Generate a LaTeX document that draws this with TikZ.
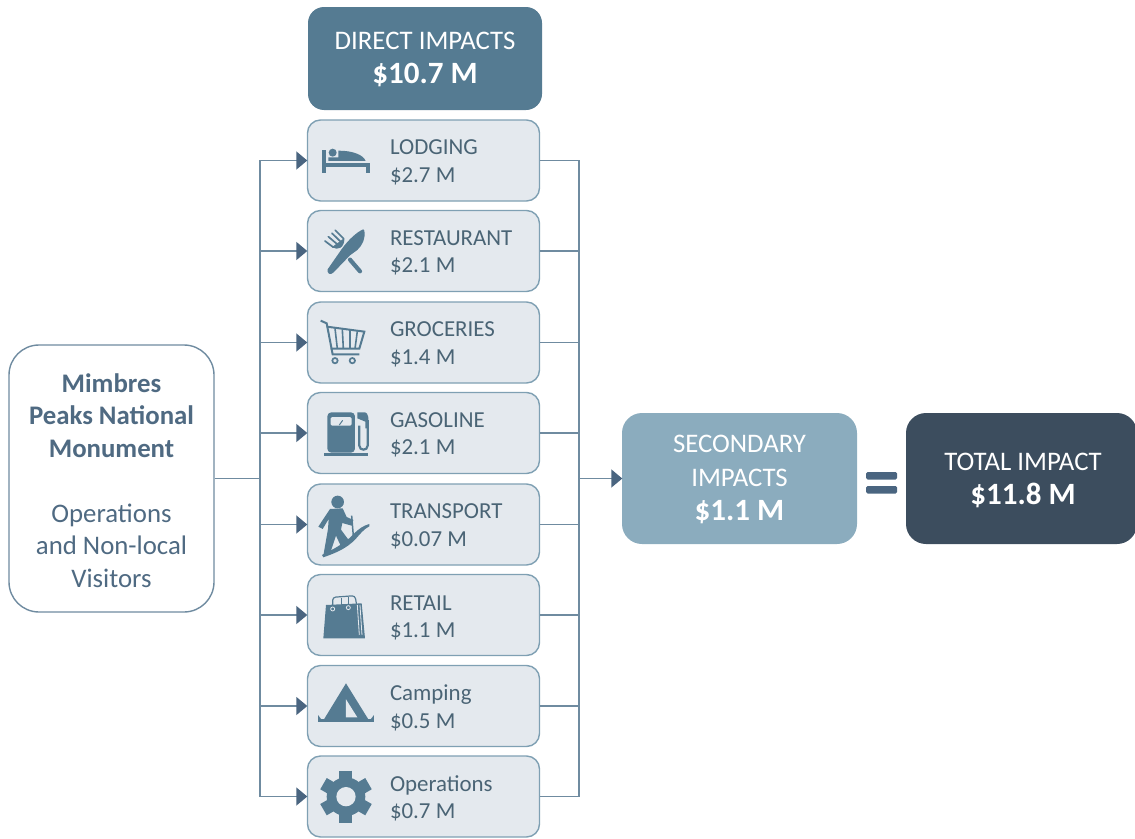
\documentclass[tikz,border=0pt]{standalone}
\usepackage{fontspec}
\setmainfont{Carlito}
\usetikzlibrary{arrows.meta, positioning}

\definecolor{linkblue}{HTML}{6F8BA0}
\definecolor{tipblue}{HTML}{4A6580}
\definecolor{edgeblue}{HTML}{7FA0B3}
\definecolor{itemfill}{HTML}{E4E9EE}
\definecolor{itemtext}{HTML}{4A6475}
\definecolor{iconblue}{HTML}{557B92}
\definecolor{midblue}{HTML}{8BACBE}
\definecolor{darkblue}{HTML}{3C4D5E}
\definecolor{mimtext}{HTML}{4F6A82}

\newcommand{\bigval}[1]{{\fontsize{31}{36}\selectfont\bfseries #1}}

\tikzset{
  itembox/.style={draw=edgeblue, fill=itemfill, line width=1.4pt, rounded corners=13pt,
    minimum width=232pt, minimum height=81pt, inner sep=0pt},
  itemlabel/.style={text=itemtext, align=left, inner sep=0pt, yshift=-2pt,
    font=\fontsize{22.9}{27.5}\selectfont},
  headbox/.style={rounded corners=16pt, inner sep=0pt},
  headtext/.style={text=white, align=center, inner sep=0pt,
    font=\fontsize{26.8}{34}\selectfont},
  link/.style={draw=linkblue, line width=1.5pt},
  arrow/.style={link, -{Triangle[length=11pt,width=18pt,color=tipblue]}, shorten >=-0.5pt},
  icon/.style={fill=iconblue, draw=none},
  iconline/.style={draw=iconblue, line width=1.5pt},
  zoomA/.style={shift={(300,110)}, x=0.3333pt, y=-0.3333pt},
  zoomB/.style={shift={(300,385)}, x=0.3333pt, y=-0.3333pt},
  zoomC/.style={shift={(300,660)}, x=0.3333pt, y=-0.3333pt}
}

\begin{document}
\begin{tikzpicture}[x=1pt, y=-1pt]
  \useasboundingbox (0,0) rectangle (1135,838);

  % source box
  \node [draw=linkblue, fill=white, line width=1.4pt, rounded corners=30pt, minimum width=205pt,
    minimum height=267pt] (mimbres) at (111.5,478.5) {};
  \node [text=mimtext, align=center, inner sep=0pt, font=\fontsize{26.8}{32.5}\selectfont] (mimbrestext) at (111.5,480.5)
    {\textbf{Mimbres}\\\textbf{Peaks National}\\\textbf{Monument}\\[32.5pt]Operations\\and Non-local\\Visitors};

  % header and results
  \node [headbox, fill=iconblue, minimum width=234pt, minimum height=103pt] (direct) at (425,58.5) {};
  \node [headtext] (directtext) at (425,59) {DIRECT IMPACTS\\\bigval{\$10.7 M}};
  \node [headbox, fill=midblue, rounded corners=20pt, minimum width=235pt, minimum height=131pt] (secondary) at (739.5,478.5) {};
  \node [headtext] (secondarytext) at (739.5,479.5) {SECONDARY\\IMPACTS\\\bigval{\$1.1 M}};
  \node [headbox, fill=darkblue, rounded corners=20pt, minimum width=231pt, minimum height=131pt] (total) at (1021.5,478.5) {};
  \node [headtext] (totaltext) at (1023,480) {TOTAL IMPACT\\\bigval{\$11.8 M}};

  % spending boxes
  \node [itembox] (lodging) at (423.5,160.5) {};
  \node [itemlabel, right=83pt of lodging.west] (lodgingtext) {LODGING\\\$2.7 M};
  \node [itembox] (restaurant) at (423.5,251) {};
  \node [itemlabel, right=83pt of restaurant.west] (restauranttext) {RESTAURANT\\\$2.1 M};
  \node [itembox] (groceries) at (423.5,342.5) {};
  \node [itemlabel, right=83pt of groceries.west] (groceriestext) {GROCERIES\\\$1.4 M};
  \node [itembox] (gasoline) at (423.5,433) {};
  \node [itemlabel, right=83pt of gasoline.west] (gasolinetext) {GASOLINE\\\$2.1 M};
  \node [itembox] (transport) at (423.5,524.5) {};
  \node [itemlabel, right=83pt of transport.west] (transporttext) {TRANSPORT\\\$0.07 M};
  \node [itembox] (retail) at (423.5,615) {};
  \node [itemlabel, right=83pt of retail.west, yshift=-1pt] (retailtext) {RETAIL\\\$1.1 M};
  \node [itembox] (camping) at (423.5,706) {};
  \node [itemlabel, right=83pt of camping.west] (campingtext) {Camping\\\$0.5 M};
  \node [itembox] (operations) at (423.5,796.5) {};
  \node [itemlabel, right=83pt of operations.west] (operationstext) {Operations\\\$0.7 M};

  % connectors
  \coordinate (busleft) at (260,478.5);
  \coordinate (busright) at (579,478.5);
  \draw [link] (mimbres) -- (busleft);
  \draw [arrow] (busleft) |- (lodging);
  \draw [arrow] (busleft) |- (restaurant);
  \draw [arrow] (busleft) |- (groceries);
  \draw [arrow] (busleft) |- (gasoline);
  \draw [arrow] (busleft) |- (transport);
  \draw [arrow] (busleft) |- (retail);
  \draw [arrow] (busleft) |- (camping);
  \draw [arrow] (busleft) |- (operations);
  \draw [link] (lodging) -| (busright);
  \draw [link] (restaurant) -| (busright);
  \draw [link] (groceries) -| (busright);
  \draw [link] (gasoline) -| (busright);
  \draw [link] (transport) -| (busright);
  \draw [link] (retail) -| (busright);
  \draw [link] (camping) -| (busright);
  \draw [link] (operations) -| (busright);
  \draw [arrow] (busright) -- (secondary);

  % equals sign
  \fill [tipblue, rounded corners=1.5pt] (866,472) rectangle (897,479.5);
  \fill [tipblue, rounded corners=1.5pt] (866,486) rectangle (897,493.5);

  % bed
  \begin{scope}[zoomA]
    \fill [icon] (67,120) rectangle (78,188);
    \fill [icon] (67,160) rectangle (210,172);
    \fill [icon] (198,160) rectangle (210,188);
    \fill [icon] (98,128) circle (12);
    \fill [icon] (115,122) .. controls (160,122) and (190,135) .. (197,153) -- (85,153) -- (85,142) -- (115,142) -- cycle;
  \end{scope}

  % knife and fork
  \begin{scope}[zoomA]
    \fill [icon] (190,358) .. controls (170,366) and (145,390) .. (126,416) -- (83,478) .. controls (80,492) and (92,496) .. (100,488) -- (150,436) -- (172,420) .. controls (188,405) and (197,385) .. (193,362) -- cycle;
    \draw [iconline, line width=4.2pt, line cap=round] (150,449) -- (180,484);
    \draw [iconline, line width=1.7pt, line cap=round] (75,393) -- (100,412);
    \draw [iconline, line width=1.7pt, line cap=round] (85,380) -- (112,403);
    \draw [iconline, line width=1.7pt, line cap=round] (96,370) -- (122,395);
    \draw [iconline, line width=1.7pt, line cap=round] (106,361) -- (130,385);
    \fill [icon] (98,410) .. controls (112,425) and (135,412) .. (133,384) -- cycle;
  \end{scope}

  % cart
  \begin{scope}[zoomA]
    \draw [iconline, line width=2pt] (62,632) -- (80,640) -- (98,733) -- (178,733);
    \draw [iconline, line width=2pt] (80,650) -- (193,665) -- (178,716) -- (92,716);
    \draw [iconline, line width=1.6pt] (105,655) -- (112,716);
    \draw [iconline, line width=1.6pt] (127,658) -- (130,716);
    \draw [iconline, line width=1.6pt] (150,661) -- (150,716);
    \draw [iconline, line width=1.6pt] (172,664) -- (165,716);
    \draw [iconline, line width=1.7pt] (105,752) circle (8);
    \draw [iconline, line width=1.7pt] (157,752) circle (8);
  \end{scope}

  % fuel pump
  \begin{scope}[zoomB]
    \fill [icon, rounded corners=4pt] (82,203) -- (82,82) -- (165,82) -- (165,203) -- cycle;
    \fill [icon] (72,203) rectangle (204,212);
    \fill [itemfill, rounded corners=1.5pt] (92,96) rectangle (155,122);
    \draw [iconline, line width=1pt] (118,120) -- (128,106);
    \draw [iconline, line width=2.2pt] (203,105) -- (203,182) .. controls (203,198) and (178,198) .. (178,182) -- (178,122);
    \fill [icon] (172,82) -- (195,82) .. controls (205,85) and (206,95) .. (206,130) -- (196,130) -- (196,110) -- (172,100) -- cycle;
  \end{scope}

  % hiker
  \begin{scope}[zoomB]
    \fill [icon] (113,351) circle (19);
    \fill [icon] (90,372) -- (128,370) -- (140,396) -- (160,405) -- (155,422) -- (127,414) -- (123,434) -- (148,468) -- (122,482) -- (108,452) -- (92,500) -- (70,512) -- (84,432) -- (86,402) -- (68,432) -- (55,425) -- cycle;
    \fill [icon] (66,510) .. controls (110,488) and (140,470) .. (160,448) .. controls (175,432) and (190,422) .. (208,417) -- (208,424) .. controls (192,432) and (180,447) .. (167,462) .. controls (140,490) and (110,503) .. (70,517) -- cycle;
    \draw [iconline, line width=1.5pt] (155,392) -- (161,465);
  \end{scope}

  % shopping bag
  \begin{scope}[zoomB]
    \fill [icon] (78,660) -- (185,655) -- (195,760) -- (70,760) -- cycle;
    \draw [iconline, line width=1.2pt, rounded corners=3pt] (98,670) -- (98,637) -- (165,632) -- (170,660);
    \draw [iconline, line width=1.2pt, rounded corners=3pt] (124,660) -- (124,640);
    \draw [iconline, line width=1.2pt, rounded corners=3pt] (145,670) -- (145,637);
    \draw [itemfill, line width=0.8pt] (98,672) circle (6);
    \draw [itemfill, line width=0.8pt] (145,668) circle (6);
    \draw [itemfill, line width=0.8pt] (172,660) -- (178,750);
    \draw [itemfill, line width=0.8pt] (180,660) -- (186,750);
  \end{scope}

  % tent
  \begin{scope}[zoomC]
    \fill [icon] (138,70) -- (205,178) -- (72,178) -- cycle;
    \fill [itemfill] (138,118) -- (172,172) -- (138,172) -- cycle;
    \fill [icon] (54,178) rectangle (222,187);
    \fill [icon] (54,165) -- (64,178) -- (54,178) -- cycle;
    \fill [icon] (222,165) -- (212,178) -- (222,178) -- cycle;
  \end{scope}

  % gear
  \begin{scope}[zoomC]
    \fill [icon] (138,410) circle (58);
    \draw [iconline, line width=13pt] (138,332) -- (138,488);
    \draw [iconline, line width=13pt] (70.5,371) -- (205.5,449);
    \draw [iconline, line width=13pt] (70.5,449) -- (205.5,371);
    \fill [itemfill] (138,410) circle (29);
  \end{scope}
\end{tikzpicture}
\end{document}
